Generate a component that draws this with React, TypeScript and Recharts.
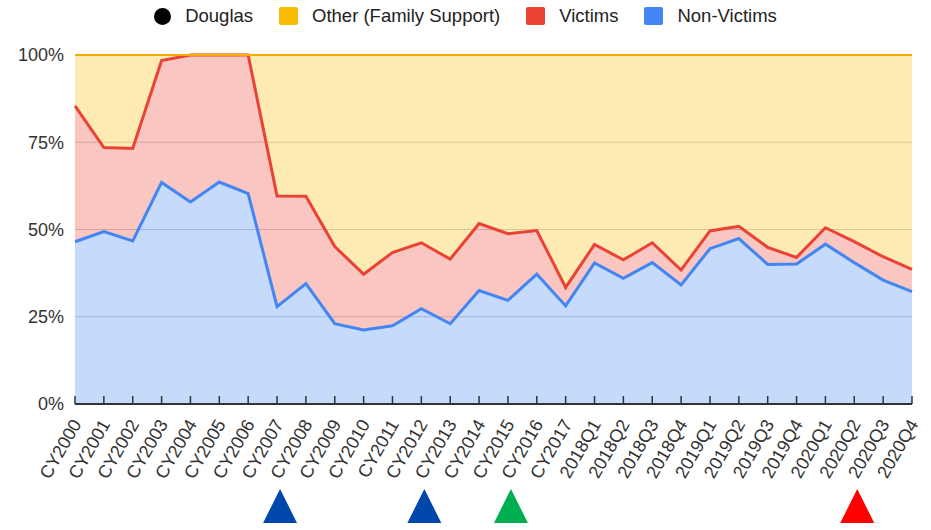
import React from 'react';
import { ComposedChart, Area, XAxis, YAxis, CartesianGrid } from 'recharts';

const categories = [
  'CY2000', 'CY2001', 'CY2002', 'CY2003', 'CY2004', 'CY2005', 'CY2006', 'CY2007', 'CY2008', 'CY2009',
  'CY2010', 'CY2011', 'CY2012', 'CY2013', 'CY2014', 'CY2015', 'CY2016', 'CY2017',
  '2018Q1', '2018Q2', '2018Q3', '2018Q4', '2019Q1', '2019Q2', '2019Q3', '2019Q4',
  '2020Q1', '2020Q2', '2020Q3', '2020Q4',
];

// shares in percent
const nonVictims = [
  46.5, 49.4, 46.7, 63.5, 57.9, 63.6, 60.3, 27.9, 34.5, 23.0,
  21.2, 22.4, 27.3, 23.0, 32.5, 29.7, 37.2, 28.1,
  40.4, 36.0, 40.5, 34.1, 44.5, 47.4, 40.0, 40.1,
  45.8, 40.5, 35.5, 32.2,
];
const victims = [
  38.9, 24.1, 26.5, 34.9, 42.1, 36.4, 39.7, 31.7, 25.0, 22.1,
  16.0, 21.0, 18.9, 18.5, 19.2, 19.1, 12.5, 5.3,
  5.3, 5.3, 5.7, 4.3, 5.1, 3.5, 4.9, 1.9,
  4.7, 6.0, 6.7, 6.4,
];
const other = [
  14.6, 26.5, 26.8, 1.6, 0, 0, 0, 40.4, 40.5, 54.9,
  62.8, 56.6, 53.8, 58.5, 48.3, 51.2, 50.3, 66.6,
  54.3, 58.7, 53.8, 61.6, 50.4, 49.1, 55.1, 58.0,
  49.5, 53.5, 57.8, 61.4,
];

const yTicks = [0, 25, 50, 75, 100];

const markerCategories = ['CY2007', 'CY2012', 'CY2015', '2020Q2'];
const markerColors = ['#0047ab', '#0047ab', '#00b050', '#ff0000'];

const legendLabels = ['Douglas', 'Other (Family Support)', 'Victims', 'Non-Victims'];
const legendColors = ['#000000', '#fbbc04', '#ea4335', '#4285f4'];
const legendShapes = ['circle', 'square', 'square', 'square'];

const data = categories.map((c, i) => ({
  cat: c,
  nonVictims: nonVictims[i],
  victims: victims[i],
  other: other[i],
}));

const FONT = '"Liberation Sans", Arial, sans-serif';

function XTick(props: any) {
  const { x, y, payload } = props;
  const idx = markerCategories.indexOf(payload.value);
  const tx = x + 7;
  const ty = y + 20;
  const cx = x + 3;
  return (
    <g>
      <line x1={x} x2={x} y1={y - 8} y2={y} stroke="#333" strokeWidth={1.5} />
      <text
        x={tx}
        y={ty}
        textAnchor="end"
        fill="#333"
        fontSize={18}
        fontFamily={FONT}
        transform={`rotate(-60, ${tx}, ${ty})`}
      >
        {payload.value}
      </text>
      {idx >= 0 && (
        <polygon
          points={`${cx},${y + 85} ${cx + 17},${y + 119} ${cx - 17},${y + 119}`}
          fill={markerColors[idx]}
        />
      )}
    </g>
  );
}

function Legend() {
  return (
    <div
      style={{
        position: 'absolute',
        left: 0,
        top: 0,
        width: 931,
        height: 32,
        display: 'flex',
        justifyContent: 'center',
        alignItems: 'center',
        fontFamily: FONT,
        fontSize: 18.5,
        color: '#222',
        zIndex: 2,
      }}
    >
      {legendLabels.map((l, i) => (
        <div key={l} style={{ display: 'flex', alignItems: 'center', marginLeft: i === 0 ? 0 : 26 }}>
          <div
            style={{
              width: legendShapes[i] === 'circle' ? 17 : 19,
              height: legendShapes[i] === 'circle' ? 17 : 18,
              borderRadius: legendShapes[i] === 'circle' ? '50%' : 2,
              background: legendColors[i],
              marginRight: 14,
            }}
          />
          <span>{l}</span>
        </div>
      ))}
    </div>
  );
}

const seriesKeys = ['nonVictims', 'victims', 'other'];
const seriesColors = ['#4285f4', '#ea4335', '#fbbc04'];
const seriesStrokeColors = ['#4285f4', '#ea4335', '#f9ab00'];
const seriesStrokeWidths = [3, 3, 2];

export default function App() {
  return (
    <div
      style={{
        position: 'absolute',
        left: 0,
        top: 0,
        width: 931,
        height: 530,
        background: '#fff',
        fontFamily: FONT,
      }}
    >
      <Legend />
      <ComposedChart
        width={931}
        height={530}
        data={data}
        margin={{ top: 55, right: 19, bottom: 0, left: 0 }}
      >
        <CartesianGrid vertical={false} stroke="#cccccc" />
        <XAxis
          dataKey="cat"
          interval={0}
          height={126}
          tickSize={0}
          tickMargin={0}
          tickLine={false}
          axisLine={{ stroke: '#333', strokeWidth: 2 }}
          tick={<XTick />}
        />
        <YAxis
          width={75}
          domain={[0, 100]}
          ticks={yTicks}
          tickFormatter={(v: number) => `${v}%`}
          axisLine={false}
          tickLine={false}
          tickSize={0}
          tickMargin={11}
          tick={{ fill: '#333', fontSize: 18, fontFamily: FONT }}
        />
        {seriesKeys.map((k, i) => (
          <Area
            key={`fill-${k}`}
            type="linear"
            dataKey={k}
            stackId="fill"
            stroke="none"
            fill={seriesColors[i]}
            fillOpacity={0.3}
            dot={false}
            activeDot={false}
            isAnimationActive={false}
          />
        ))}
        {seriesKeys.map((k, i) => (
          <Area
            key={`line-${k}`}
            type="linear"
            dataKey={k}
            stackId="line"
            stroke={seriesStrokeColors[i]}
            strokeWidth={seriesStrokeWidths[i]}
            fill="none"
            dot={false}
            activeDot={false}
            isAnimationActive={false}
          />
        ))}
      </ComposedChart>
    </div>
  );
}
